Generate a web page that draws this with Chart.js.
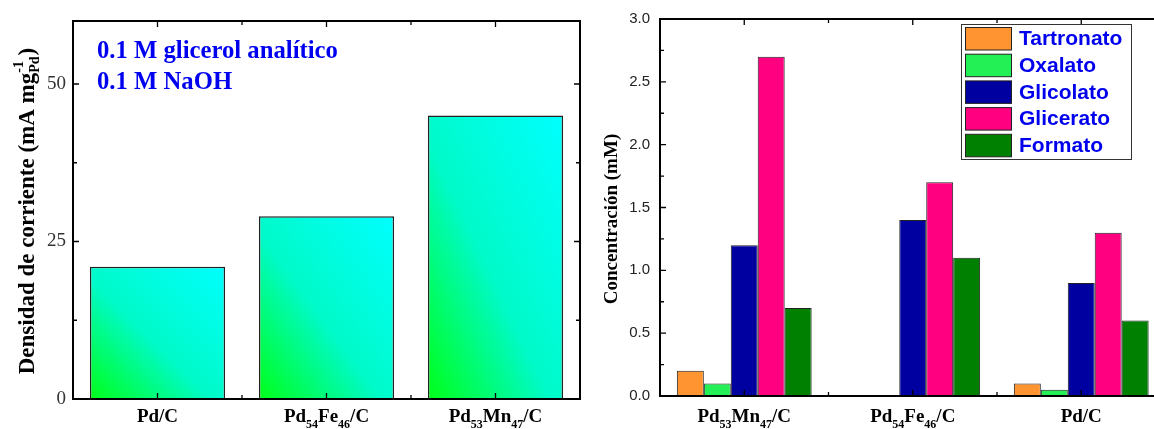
<!DOCTYPE html>
<html>
<head>
<meta charset="utf-8">
<script src="https://cdn.jsdelivr.net/npm/chart.js"></script>
<style>
  html, body { margin: 0; padding: 0; background: #fff; overflow: hidden; }
  #wrap { position: relative; width: 1154px; height: 429px; overflow: hidden; }
  #densityChart { position: absolute; left: 0; top: 0; }
  #productsChart { position: absolute; left: 590px; top: 0; }
</style>
</head>
<body>
<div id="wrap">
  <canvas id="densityChart" width="590" height="429"></canvas>
  <canvas id="productsChart" width="590" height="429"></canvas>
</div>

<script>
// current density per catalyst
const catalysts = ['Pd/C', 'Pd54Fe46/C', 'Pd53Mn47/C'];
const currentDensity = [21, 29, 45];
const densityTicks = [0, 25, 50];
const densityMinorTicks = [12.5, 37.5];
const conditions = ['0.1 M glicerol analítico', '0.1 M NaOH'];

// oxidation products per catalyst (mM)
const productCatalysts = ['Pd53Mn47/C', 'Pd54Fe46/C', 'Pd/C'];
const products = ['Tartronato', 'Oxalato', 'Glicolato', 'Glicerato', 'Formato'];
const tartronato = [0.2, 0, 0.1];
const oxalato = [0.1, 0, 0.05];
const glicolato = [1.2, 1.4, 0.9];
const glicerato = [2.7, 1.7, 1.3];
const formato = [0.7, 1.1, 0.6];
const concTicks = [0, 0.5, 1, 1.5, 2, 2.5, 3];
const concMinorTicks = [0.25, 0.75, 1.25, 1.75, 2.25, 2.75];

const productSeries = [tartronato, oxalato, glicolato, glicerato, formato];
const productColors = ['#ff9430', '#22f055', '#0000a0', '#ff0080', '#008000'];

const SERIF = '"Liberation Serif", "Times New Roman", serif';
const SANS = '"Liberation Sans", Arial, sans-serif';

// "Pd54Fe46/C" -> the digit runs become subscripts
function drawSubLabel(ctx, label, cx, y, size) {
  const subSize = Math.round(size * 0.62);
  const parts = label.split(/(\d+)/).filter(s => s).map(s => ({ text: s, sub: /^\d+$/.test(s) }));
  let total = 0;
  parts.forEach(p => {
    ctx.font = `bold ${p.sub ? subSize : size}px ${SERIF}`;
    p.w = ctx.measureText(p.text).width;
    total += p.w;
  });
  let x = cx - total / 2;
  ctx.textAlign = 'left';
  ctx.textBaseline = 'alphabetic';
  parts.forEach(p => {
    ctx.font = `bold ${p.sub ? subSize : size}px ${SERIF}`;
    ctx.fillText(p.text, x, p.sub ? y + size * 0.3 : y);
    x += p.w;
  });
}

// box around the plot plus inward major/minor ticks on all four sides
function frameTicks(minorY) {
  return {
    id: 'frameTicks',
    afterDatasetsDraw(chart) {
      const { ctx, chartArea: a, scales: { x, y } } = chart;
      ctx.save();
      ctx.strokeStyle = '#000';
      ctx.lineWidth = 2;
      ctx.strokeRect(a.left, a.top, a.right - a.left, a.bottom - a.top);
      ctx.lineWidth = 1.3;
      ctx.beginPath();
      const hTick = (v, len) => {
        const py = y.getPixelForValue(v);
        ctx.moveTo(a.left, py); ctx.lineTo(a.left + len, py);
        ctx.moveTo(a.right, py); ctx.lineTo(a.right - len, py);
      };
      const vTick = (px, len) => {
        ctx.moveTo(px, a.bottom); ctx.lineTo(px, a.bottom - len);
        ctx.moveTo(px, a.top); ctx.lineTo(px, a.top + len);
      };
      y.ticks.forEach(t => hTick(t.value, 6));
      minorY.forEach(v => hTick(v, 4));
      const n = chart.data.labels.length;
      for (let i = 0; i < n; i++) {
        vTick(x.getPixelForValue(i), 6);
        if (i < n - 1) vTick((x.getPixelForValue(i) + x.getPixelForValue(i + 1)) / 2, 4);
      }
      ctx.stroke();
      ctx.restore();
    }
  };
}

// category labels with subscripts under the x axis
const subscriptLabels = {
  id: 'subscriptLabels',
  afterDraw(chart) {
    const { ctx, scales: { x } } = chart;
    ctx.save();
    ctx.fillStyle = '#000';
    chart.data.labels.forEach((lab, i) => drawSubLabel(ctx, lab, x.getPixelForValue(i), 422, 19));
    ctx.restore();
  }
};

// green (bottom-left corner) -> cyan (top-right corner) fill, isolines along the other diagonal
function densityFill(context) {
  const chart = context.chart;
  if (context.type !== 'data' || !chart.chartArea) return '#00f8a0';
  const xs = chart.scales.x, ys = chart.scales.y;
  const cx = xs.getPixelForValue(context.dataIndex);
  const w = xs.width / catalysts.length * 0.8;
  const top = ys.getPixelForValue(context.raw);
  const bottom = ys.getPixelForValue(0);
  const h = bottom - top;
  const x0 = cx - w / 2;
  const k = 2 * w * h / (w * w + h * h);
  const g = chart.ctx.createLinearGradient(x0, bottom, x0 + h * k, bottom - w * k);
  g.addColorStop(0, '#00ff18');
  g.addColorStop(0.45, '#00fac8');
  g.addColorStop(1, '#00ffff');
  return g;
}

const densityDecor = {
  id: 'densityDecor',
  afterDraw(chart) {
    const ctx = chart.ctx;
    ctx.save();
    // conditions text
    ctx.fillStyle = '#0000f0';
    ctx.font = `bold 24.7px ${SERIF}`;
    ctx.textAlign = 'left';
    ctx.textBaseline = 'alphabetic';
    conditions.forEach((t, i) => ctx.fillText(t, 97, 58 + i * 31));
    // y title: Densidad de corriente (mA mg^-1 _Pd)
    ctx.fillStyle = '#000';
    ctx.translate(34, 211);
    ctx.rotate(-Math.PI / 2);
    const main = 'Densidad de corriente (mA mg';
    ctx.font = `bold 23px ${SERIF}`;
    const wMain = ctx.measureText(main).width;
    ctx.font = `bold 14px ${SERIF}`;
    const wSup = ctx.measureText('-1').width;
    const wSub = ctx.measureText('Pd').width;
    ctx.font = `bold 23px ${SERIF}`;
    const wClose = ctx.measureText(')').width;
    const total = wMain + Math.max(wSup, wSub) + 1 + wClose;
    let x = -total / 2;
    ctx.fillText(main, x, 0);
    x += wMain;
    ctx.font = `bold 14px ${SERIF}`;
    ctx.fillText('-1', x, -11);
    ctx.fillText('Pd', x, 5);
    x += Math.max(wSup, wSub) + 1;
    ctx.font = `bold 23px ${SERIF}`;
    ctx.fillText(')', x, 0);
    ctx.restore();
  }
};

const productsDecor = {
  id: 'productsDecor',
  afterDraw(chart) {
    const ctx = chart.ctx;
    ctx.save();
    // legend box
    ctx.fillStyle = '#fff';
    ctx.fillRect(371, 24, 170, 135);
    ctx.strokeStyle = '#333';
    ctx.lineWidth = 1;
    ctx.strokeRect(371.5, 24.5, 170, 135);
    chart.data.datasets.forEach((ds, i) => {
      const y0 = 27.5 + i * 26.7;
      ctx.fillStyle = ds.backgroundColor;
      ctx.fillRect(375.5, y0, 46, 22.5);
      ctx.strokeStyle = '#222';
      ctx.strokeRect(375.5, y0, 46, 22.5);
      ctx.fillStyle = '#0000ee';
      ctx.font = `bold 21px ${SANS}`;
      ctx.textAlign = 'left';
      ctx.textBaseline = 'middle';
      ctx.fillText(ds.label, 429, y0 + 12);
    });
    // y title
    ctx.fillStyle = '#000';
    ctx.font = `bold 19px ${SERIF}`;
    ctx.textAlign = 'center';
    ctx.textBaseline = 'alphabetic';
    ctx.translate(27, 219);
    ctx.rotate(-Math.PI / 2);
    ctx.fillText('Concentración (mM)', 0, 0);
    ctx.restore();
  }
};

new Chart(document.getElementById('densityChart'), {
  type: 'bar',
  data: {
    labels: catalysts,
    datasets: [{
      data: currentDensity,
      backgroundColor: densityFill,
      borderColor: '#222',
      borderWidth: 1.5,
      borderSkipped: 'start',
      categoryPercentage: 0.8,
      barPercentage: 1
    }]
  },
  options: {
    responsive: false,
    animation: false,
    devicePixelRatio: 1,
    layout: { padding: { top: 21, right: 10, left: 0, bottom: 0 } },
    plugins: { legend: { display: false }, tooltip: { enabled: false } },
    scales: {
      x: {
        grid: { display: false, drawTicks: false },
        border: { display: false },
        ticks: { display: false },
        afterFit: s => { s.height = 30; }
      },
      y: {
        min: 0,
        max: 60,
        grid: { display: false, drawTicks: false },
        border: { display: false },
        afterBuildTicks: s => { s.ticks = densityTicks.map(v => ({ value: v })); },
        ticks: { padding: 7, color: '#333', font: { family: SERIF, size: 19 } },
        afterFit: s => { s.width = 73; }
      }
    }
  },
  plugins: [frameTicks(densityMinorTicks), subscriptLabels, densityDecor]
});

new Chart(document.getElementById('productsChart'), {
  type: 'bar',
  data: {
    labels: productCatalysts,
    datasets: products.map((name, i) => ({
      label: name,
      data: productSeries[i],
      backgroundColor: productColors[i],
      borderColor: '#222',
      borderWidth: c => (c.raw === 0 ? 0 : 1),
      borderSkipped: 'start',
      categoryPercentage: 0.8,
      barPercentage: 1
    }))
  },
  options: {
    responsive: false,
    animation: false,
    devicePixelRatio: 1,
    layout: { padding: { top: 19, right: 14.5, left: 0, bottom: 0 } },
    plugins: { legend: { display: false }, tooltip: { enabled: false } },
    scales: {
      x: {
        grid: { display: false, drawTicks: false },
        border: { display: false },
        ticks: { display: false },
        afterFit: s => { s.height = 33; }
      },
      y: {
        min: 0,
        max: 3,
        grid: { display: false, drawTicks: false },
        border: { display: false },
        afterBuildTicks: s => { s.ticks = concTicks.map(v => ({ value: v })); },
        ticks: {
          padding: 10,
          color: '#222',
          font: { family: SANS, size: 15 },
          callback: v => Number(v).toFixed(1)
        },
        afterFit: s => { s.width = 70; }
      }
    }
  },
  plugins: [frameTicks(concMinorTicks), subscriptLabels, productsDecor]
});
</script>
</body>
</html>
